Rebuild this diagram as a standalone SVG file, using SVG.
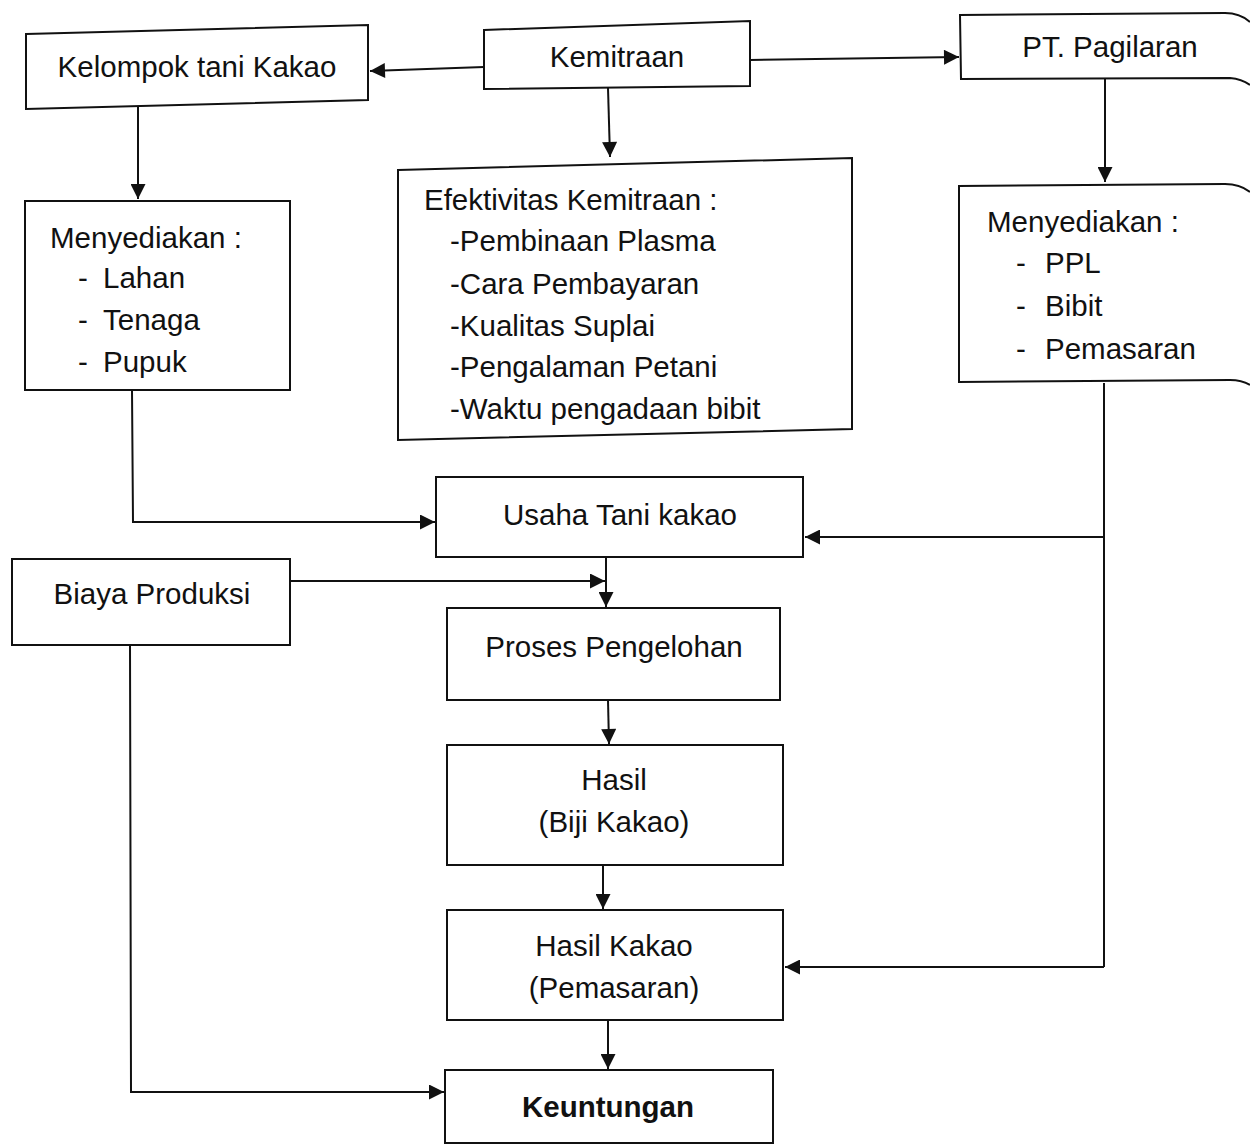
<svg xmlns="http://www.w3.org/2000/svg" width="1250" height="1145" viewBox="0 0 1250 1145">
<defs>
<marker id="ah" viewBox="0 0 10 10" refX="10" refY="5" markerWidth="8" markerHeight="7.5" orient="auto" markerUnits="strokeWidth">
<path d="M0,0 L10,5 L0,10 z" fill="#111"/>
</marker>
<style>
.box{fill:#fff;stroke:#111;stroke-width:2}
.c{fill:none;stroke:#111;stroke-width:2}
.a{marker-end:url(#ah)}
text{font-family:"Liberation Sans","Open Sans",sans-serif;font-size:29.5px;fill:#111}
.m{text-anchor:middle}
.b{font-weight:bold}
</style>
</defs>
<rect width="1250" height="1145" fill="#fff"/>
<g id="connectors">
<path class="c a" d="M484,67 L370,71"/>
<path class="c a" d="M750,60 L959,57"/>
<path class="c a" d="M138,100 L138,199"/>
<path class="c a" d="M608,88 L610,157"/>
<path class="c a" d="M1105,78 L1105,182"/>
<path class="c a" d="M132,390 L133,522 L435,522"/>
<path class="c" d="M1104,383 L1104,967"/>
<path class="c a" d="M1104,537 L805,537"/>
<path class="c a" d="M1104,967 L785,967"/>
<path class="c a" d="M290,581 L605,581"/>
<path class="c a" d="M606,557 L606,607"/>
<path class="c a" d="M608,700 L609,744"/>
<path class="c a" d="M603,865 L603,909"/>
<path class="c a" d="M608,1020 L608,1069"/>
<path class="c a" d="M130,645 L131,1092 L444,1092"/>
</g>
<g id="kelompok">
<path class="box" d="M26,44 L368,35 L368,110 L26,119 z" transform="translate(0,-10)"/>
<text x="197" y="77" class="m">Kelompok tani Kakao</text>
</g>
<g id="kemitraan">
<path class="box" d="M484,30 L750,21 L750,86 L484,89 z"/>
<text x="617" y="67" class="m">Kemitraan</text>
</g>
<g id="pt-pagilaran">
<path class="box" d="M1250,22 Q1240,13 1225,13 L960,15 L961,79 L1230,78 Q1242,79 1250,85"/>
<text x="1110" y="57" class="m">PT. Pagilaran</text>
</g>
<g id="menyediakan-kiri">
<rect class="box" x="25" y="201" width="265" height="189"/>
<text x="50" y="248">Menyediakan :</text>
<text x="78" y="288">-</text><text x="103" y="288">Lahan</text>
<text x="78" y="330">-</text><text x="103" y="330">Tenaga</text>
<text x="78" y="372">-</text><text x="103" y="372">Pupuk</text>
</g>
<g id="efektivitas">
<path class="box" d="M398,170 L852,158 L852,429 L398,440 z"/>
<text x="424" y="210">Efektivitas Kemitraan :</text>
<text x="450" y="251">-Pembinaan Plasma</text>
<text x="450" y="294">-Cara Pembayaran</text>
<text x="450" y="336">-Kualitas Suplai</text>
<text x="450" y="377">-Pengalaman Petani</text>
<text x="450" y="419">-Waktu pengadaan bibit</text>
</g>
<g id="menyediakan-kanan">
<path class="box" d="M1250,192 Q1240,184 1225,184 L959,186 L959,382 L1230,380 Q1242,380 1250,385"/>
<text x="987" y="232">Menyediakan :</text>
<text x="1016" y="273">-</text><text x="1045" y="273">PPL</text>
<text x="1016" y="316">-</text><text x="1045" y="316">Bibit</text>
<text x="1016" y="359">-</text><text x="1045" y="359">Pemasaran</text>
</g>
<g id="usaha-tani">
<rect class="box" x="436" y="477" width="367" height="80"/>
<text x="620" y="525" class="m">Usaha Tani kakao</text>
</g>
<g id="biaya-produksi">
<rect class="box" x="12" y="559" width="278" height="86"/>
<text x="152" y="604" class="m">Biaya Produksi</text>
</g>
<g id="proses">
<rect class="box" x="447" y="608" width="333" height="92"/>
<text x="614" y="657" class="m">Proses Pengelohan</text>
</g>
<g id="hasil">
<rect class="box" x="447" y="745" width="336" height="120"/>
<text x="614" y="790" class="m">Hasil</text>
<text x="614" y="832" class="m">(Biji Kakao)</text>
</g>
<g id="hasil-kakao">
<rect class="box" x="447" y="910" width="336" height="110"/>
<text x="614" y="956" class="m">Hasil Kakao</text>
<text x="614" y="998" class="m">(Pemasaran)</text>
</g>
<g id="keuntungan">
<rect class="box" x="445" y="1070" width="328" height="73"/>
<text x="608" y="1117" class="m b">Keuntungan</text>
</g>
</svg>
